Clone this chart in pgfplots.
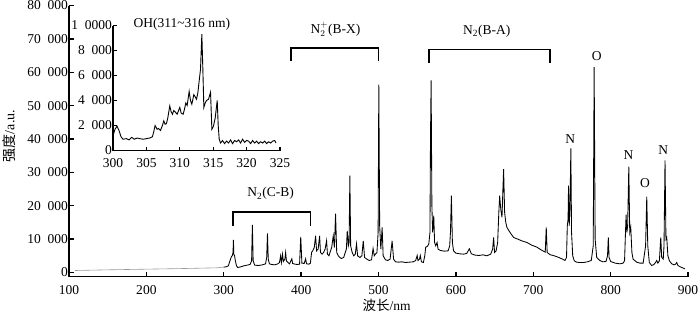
\documentclass[border=0pt]{standalone}
\usepackage{pgfplots}
\pgfplotsset{compat=1.18}
\usepackage{fontspec}
\setmainfont{Liberation Serif}
\newfontfamily\cjk{Noto Sans CJK SC}

\begin{document}
\begin{tikzpicture}[font=\fontsize{13.5}{15}\selectfont]
\useasboundingbox (-69pt,-37.5pt) rectangle (631pt,276.5pt);
\begin{axis}[
  at={(0pt,0pt)}, anchor=south west,
  width=619pt, height=271pt, scale only axis,
  xmin=100, xmax=900, ymin=-1200, ymax=80000,
  scaled y ticks=false, scaled x ticks=false,
  axis x line=bottom, axis y line=left,
  axis line style={-, line width=1.6pt},
  xtick={100,200,...,900},
  xticklabels={100,200,300,400,500,600,700,800,900},
  ytick={0,10000,...,80000},
  yticklabels={0,10\enspace000,20\enspace000,30\enspace000,40\enspace000,50\enspace000,60\enspace000,70\enspace000,80\enspace000},
  tick align=inside, major tick length=5pt,
  tick style={line width=1.4pt, black},
  yticklabel style={inner sep=1pt},
  xticklabel style={yshift=-5pt},
  every axis x label/.style={at={(axis description cs:0.5,0)}, xshift=8pt, yshift=-29pt, anchor=center},
  every axis y label/.style={at={(axis description cs:0,0.5)}, xshift=-60pt, yshift=5pt, rotate=90, anchor=center, font=\fontsize{14}{16}\selectfont},
  xlabel={{\cjk 波长}/nm}, ylabel={{\cjk 强度}/a.u.},
  clip=false,
]
\addplot[gray!80, line width=0.6pt] coordinates {
(108,600) (150,800) (200,1000) (250,1200) (290,1400) (300,1600)
};
\addplot[black, line width=0.85pt] coordinates {
(300,1600) (303,1700) (306,2000) (308,3500) (310,4800) (311,5000) (312,6000) (312.5,9800) (313,5500) (314,5000) (315,3500) (316.5,2000) (318,1500) (322,1700) (326,2000) (330,2200) (334,2400) (336,3500) (337,14300) (338,3500) (340,2200) (345,2100) (350,2300) (354,2600) (355.5,4500) (356.5,11700) (357.5,4000) (359,2600) (362,2400) (366,2300) (370,2600) (372,3000) (373.5,5000) (374.5,3000) (376,5500) (377,3300) (379,4000) (380,6000) (381,3500) (383,3000) (385,2600) (388,4100) (389,2700) (392,2500) (395,2400) (398,2500) (399.5,10700) (401,2800) (404,2700) (405.8,4100) (407,2600) (410,2500) (412,2800) (413.5,6000) (415,6500) (417,7500) (418.7,11000) (420,6500) (422,7000) (423.9,11000) (425,6000) (427,5500) (429,6000) (431,7000) (432.9,9500) (434,5500) (436,5000) (438,6500) (439.5,7500) (441.5,11000) (443,7500) (444.5,17600) (446,6000) (448,5000) (450,4500) (452,4200) (455,4500) (457,6000) (458.5,7000) (459.6,12500) (461,8000) (462,9000) (463,29000) (464,8000) (466,6000) (468,5000) (470,5500) (471.6,8600) (473,5000) (476,4500) (478.5,5000) (480.3,9500) (482,4500) (485,4000) (488,3600) (491,3800) (493,7200) (494.5,5000) (496,5500) (498,6000) (499.5,12000) (500.4,56300) (501.5,14000) (503,7000) (504.7,13500) (506,5000) (509,3800) (512,3600) (515,4000) (517.6,9500) (519.5,4000) (522,3200) (526,3100) (530,3200) (535,3000) (540,3100) (545,3200) (548,3600) (550,5100) (551,3600) (553,4000) (554,5100) (555.5,3200) (558,3000) (559.8,5000) (561,7600) (563,7800) (565,8500) (566.5,12000) (567.2,40400) (568,57600) (569,20000) (570,12000) (571.4,17000) (572.5,9000) (574,8000) (575.7,9000) (577,7000) (580,6600) (585,6400) (590,6500) (592,8000) (593,12000) (594.2,23000) (595.5,9000) (597,6500) (600,5800) (605,5600) (610,5500) (614,5700) (617.4,7100) (620,5600) (625,5200) (630,5100) (635,5300) (640,5000) (645,5500) (647.5,7000) (648.8,10500) (650,6000) (652,6500) (654,9000) (655.5,18000) (656.6,23000) (658,19000) (659.6,16500) (660.8,25000) (661.7,31000) (663,18000) (664.5,15000) (666,13500) (670,12000) (674.6,10500) (680,10000) (685,9500) (691.8,9000) (698,8200) (704.7,7600) (710,6800) (715.5,6100) (716.8,13500) (718,6000) (722,5300) (726,5100) (732,4600) (738,4000) (741,3600) (743,4500) (744,14000) (745,16000) (745.6,26000) (746.5,14000) (747.5,20000) (748.6,37200) (749.5,12000) (751,5000) (753,3500) (756,3100) (760,3000) (765,3000) (770,3200) (775,3600) (777.5,8000) (778.7,61500) (780,10000) (782,4500) (786,3600) (790,3200) (794,3300) (796,5000) (797,10500) (798,4500) (800,3300) (806,2800) (812,2600) (816,2800) (818,3500) (819.2,12000) (820,17300) (821,12000) (822,14000) (823.5,31700) (824.7,12000) (826,13500) (827.5,6000) (829,4000) (833.7,3100) (838,2800) (842,2800) (845.2,8000) (846.7,22700) (848,8000) (850,3000) (853,2100) (856,2400) (858,3000) (859.6,3600) (861,2800) (863,3500) (864.8,10500) (866,4500) (868,4000) (869,8000) (870.3,33600) (871.5,10000) (872.5,10500) (874,5000) (876,3500) (879,2600) (882,2300) (884,2500) (885.4,3000) (887,2100) (890,1700) (893,1400) (896,1100)
};
% brackets
\draw[line width=1.8pt] (axis cs:311.6,14000) -- (axis cs:311.6,18200) -- (axis cs:412,18200) -- (axis cs:412,14000);
\draw[line width=1.8pt] (axis cs:386.5,63300) -- (axis cs:386.5,67200) -- (axis cs:500,67200) -- (axis cs:500,63300);
\draw[line width=1.8pt] (axis cs:564.9,62800) -- (axis cs:564.9,66800) -- (axis cs:722,66800) -- (axis cs:722,62800);
\node at (axis cs:360.6,23600) {N\textsubscript{2}(C-B)};
\node at (axis cs:444.5,72800) {N$^{+}_{2}$(B-X)};
\node at (axis cs:640,72200) {N\textsubscript{2}(B-A)};
\node at (axis cs:782,64800) {O};
\node at (axis cs:747.7,39900) {N};
\node at (axis cs:823,35100) {N};
\node at (axis cs:844.5,26700) {O};
\node at (axis cs:868,36600) {N};
\end{axis}

\begin{axis}[
  at={(44pt,126pt)}, anchor=south west,
  width=167pt, height=125pt, scale only axis,
  xmin=300, xmax=325, ymin=0, ymax=10000,
  scaled y ticks=false, scaled x ticks=false,
  axis x line=bottom, axis y line=left,
  axis line style={-, line width=1.3pt},
  xtick={300,305,...,325},
  xticklabels={300,305,310,315,320,325},
  ytick={0,2000,...,10000},
  yticklabels={0,2\enspace000,4\enspace000,6\enspace000,8\enspace000,1\enspace0000},
  tick align=inside, major tick length=3.5pt,
  tick style={line width=1.2pt, black},
  yticklabel style={inner sep=1pt},
  xticklabel style={yshift=-4.5pt},
  clip=false,
]
\addplot[black, line width=0.9pt] coordinates {
(300,1200) (300.3,1700) (300.6,1950) (300.9,1600) (301.2,1100) (301.5,900) (302,950) (302.4,850) (302.8,1050) (303.2,900) (303.6,1000) (304,950) (304.5,900) (305,950) (305.5,1000) (305.9,1100) (306.1,1500) (306.3,2000) (306.6,1700) (306.8,1760) (307.1,1600) (307.4,2000) (307.6,2370) (307.8,2100) (308,2150) (308.2,2600) (308.5,3570) (308.7,3100) (308.9,2900) (309.1,3200) (309.3,3100) (309.6,2900) (310,3450) (310.2,3000) (310.5,2900) (310.7,3300) (310.9,3800) (311.1,3600) (311.4,4730) (311.6,4000) (311.8,3700) (312.1,4470) (312.3,4300) (312.5,4100) (312.7,4600) (312.9,5570) (313.1,6500) (313.3,9300) (313.45,6500) (313.6,3450) (313.8,3800) (314,4000) (314.3,4100) (314.6,4660) (314.8,1700) (315,1900) (315.1,2100) (315.3,2600) (315.6,4000) (315.75,2000) (315.9,900) (316.1,600) (316.4,800) (316.7,550) (317,750) (317.3,600) (317.6,850) (317.9,550) (318.2,800) (318.5,700) (318.8,850) (319.1,600) (319.4,900) (319.7,650) (320,800) (320.3,750) (320.6,550) (320.9,800) (321.2,600) (321.5,750) (321.8,550) (322.1,700) (322.4,600) (322.7,750) (323,550) (323.3,700) (323.6,600) (323.9,750) (324.2,800) (324.4,600)
};
\node at (axis cs:310.3,10100) {OH(311\textasciitilde316 nm)};
\end{axis}
\end{tikzpicture}
\end{document}
